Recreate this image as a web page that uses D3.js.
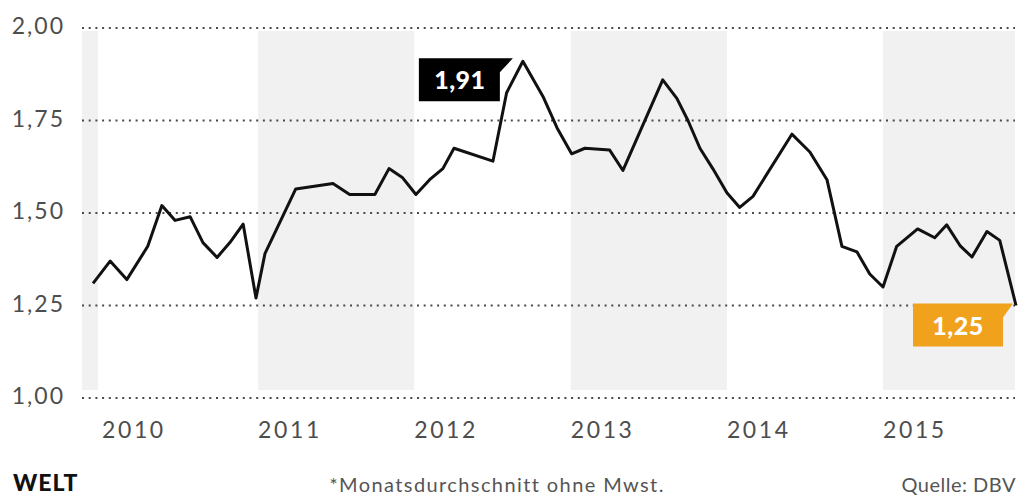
<!DOCTYPE html>
<html>
<head>
<meta charset="utf-8">
<script src="https://cdnjs.cloudflare.com/ajax/libs/d3/7.8.5/d3.min.js"></script>
<style>
  body { margin: 0; background: #fff; }
  svg { display: block; font-family: Lato, "Open Sans", sans-serif; }
</style>
</head>
<body>
<svg width="1021" height="497"></svg>
<script>
// monthly average price
var dates = ["2009-12-11","2010-01-20","2010-02-28","2010-04-18","2010-05-21","2010-06-21",
  "2010-07-26","2010-08-25","2010-09-27","2010-10-27","2010-11-27","2010-12-27",
  "2011-01-17","2011-03-30","2011-06-25","2011-08-03","2011-10-01","2011-11-03","2011-12-05",
  "2012-01-05","2012-02-06","2012-03-08","2012-04-03","2012-07-03","2012-08-04","2012-09-11",
  "2012-10-28","2012-11-30","2013-01-03","2013-02-03","2013-04-02","2013-05-03","2013-08-04",
  "2013-09-06","2013-10-02","2013-10-30","2013-11-29","2014-01-01","2014-01-31","2014-03-03",
  "2014-06-02","2014-07-14","2014-08-23","2014-09-27","2014-11-01","2014-12-01","2015-01-01",
  "2015-02-02","2015-03-23","2015-05-02","2015-05-30","2015-06-30","2015-07-28","2015-09-01",
  "2015-10-01","2015-11-08"];
var prices = [1.31,1.37,1.32,1.41,1.52,1.48,
  1.49,1.42,1.38,1.42,1.47,1.27,
  1.39,1.565,1.58,1.55,1.55,1.62,1.595,
  1.55,1.59,1.62,1.675,1.64,1.825,1.91,
  1.815,1.73,1.66,1.675,1.67,1.615,1.86,
  1.81,1.75,1.675,1.62,1.555,1.515,1.545,
  1.713,1.665,1.59,1.41,1.395,1.335,1.30,
  1.41,1.457,1.433,1.468,1.412,1.381,1.45,
  1.426,1.25];
var yTicks = [1.00, 1.25, 1.50, 1.75, 2.00];
var yearLabels = [2010, 2011, 2012, 2013, 2014, 2015];
var shadedYears = [2009, 2011, 2013, 2015];

var LEFT = 82, RIGHT = 1015;
var parse = d3.timeParse("%Y-%m-%d");
var data = dates.map(function(d, i){ return {date: parse(d), value: prices[i]}; });

var svg = d3.select("svg");

var x = d3.scaleTime()
  .domain([new Date(2010, 0, 1), new Date(2015, 0, 1)])
  .range([102, 883]);
var y = d3.scaleLinear().domain([1, 2]).range([398, 28]);

var fmt = function(v){ return d3.format(".2f")(v).replace(".", ","); };

// year bands
svg.selectAll("rect.band").data(shadedYears).enter().append("rect")
  .attr("class", "band")
  .attr("x", function(d){ return Math.max(LEFT, x(new Date(d, 0, 1))); })
  .attr("width", function(d){
    var x1 = d == 2009 ? x(new Date(2010, 0, 1)) - 4 : Math.min(RIGHT, x(new Date(d + 1, 0, 1)));
    return x1 - Math.max(LEFT, x(new Date(d, 0, 1)));
  })
  .attr("y", y(2) + 3)
  .attr("height", y(1) - y(2) - 11)
  .attr("fill", "#f1f1f1");

// grid
svg.selectAll("line.grid").data(yTicks).enter().append("line")
  .attr("class", "grid")
  .attr("x1", LEFT).attr("x2", RIGHT)
  .attr("y1", function(d){ return y(d); })
  .attr("y2", function(d){ return y(d); })
  .attr("stroke", "#4a4a4a")
  .attr("stroke-width", 2)
  .attr("stroke-dasharray", "2,4.7");

svg.selectAll("text.ytick").data(yTicks).enter().append("text")
  .attr("class", "ytick")
  .attr("x", 65)
  .attr("y", function(d){ return y(d) + 6; })
  .attr("text-anchor", "end")
  .attr("font-size", 23)
  .attr("letter-spacing", 2)
  .attr("fill", "#4d4d4d")
  .text(fmt);

svg.selectAll("text.xtick").data(yearLabels).enter().append("text")
  .attr("class", "xtick")
  .attr("x", function(d){ return x(new Date(d, 0, 1)); })
  .attr("y", 438)
  .attr("font-size", 23)
  .attr("letter-spacing", 2.6)
  .attr("fill", "#4d4d4d")
  .text(function(d){ return d; });

// line
var line = d3.line()
  .x(function(d){ return x(d.date); })
  .y(function(d){ return y(d.value); });

svg.append("path")
  .datum(data)
  .attr("d", line)
  .attr("fill", "none")
  .attr("stroke", "#111")
  .attr("stroke-width", 3)
  .attr("stroke-linejoin", "round");

// peak label
var peak = data[d3.maxIndex(data, function(d){ return d.value; })];
var px = x(peak.date), py = y(peak.value);
svg.append("polygon")
  .attr("points", [[px-10,py-3],[px-23,py+11],[px-23,py+40],[px-104,py+40],[px-104,py-3]].join(" "))
  .attr("fill", "#000");
svg.append("text")
  .attr("x", px - 63).attr("y", py + 28)
  .attr("text-anchor", "middle")
  .attr("font-size", 25).attr("font-weight", 900)
  .attr("letter-spacing", 0.5)
  .attr("fill", "#fff")
  .text(fmt(peak.value));

// last value label
var last = data[data.length - 1];
var lx = x(last.date), ly = y(last.value);
svg.append("polygon")
  .attr("points", [[lx-3,ly-2],[lx-13,ly+12],[lx-13,ly+41],[lx-103,ly+41],[lx-103,ly-2]].join(" "))
  .attr("fill", "#f0a21c");
svg.append("text")
  .attr("x", lx - 58).attr("y", ly + 29)
  .attr("text-anchor", "middle")
  .attr("font-size", 25).attr("font-weight", 900)
  .attr("letter-spacing", 0.5)
  .attr("fill", "#fff")
  .text(fmt(last.value));

// footer
svg.append("text")
  .attr("x", 13).attr("y", 491)
  .attr("font-size", 23).attr("font-weight", 900)
  .attr("letter-spacing", 1)
  .attr("fill", "#111")
  .text("WELT");

svg.append("text")
  .attr("x", 497).attr("y", 492)
  .attr("text-anchor", "middle")
  .attr("font-size", 20)
  .attr("letter-spacing", 1.4)
  .attr("fill", "#555")
  .text("*Monatsdurchschnitt ohne Mwst.");

svg.append("text")
  .attr("x", 1016).attr("y", 492)
  .attr("text-anchor", "end")
  .attr("font-size", 20)
  .attr("letter-spacing", 0.5)
  .attr("fill", "#555")
  .text("Quelle: DBV");
</script>
</body>
</html>
